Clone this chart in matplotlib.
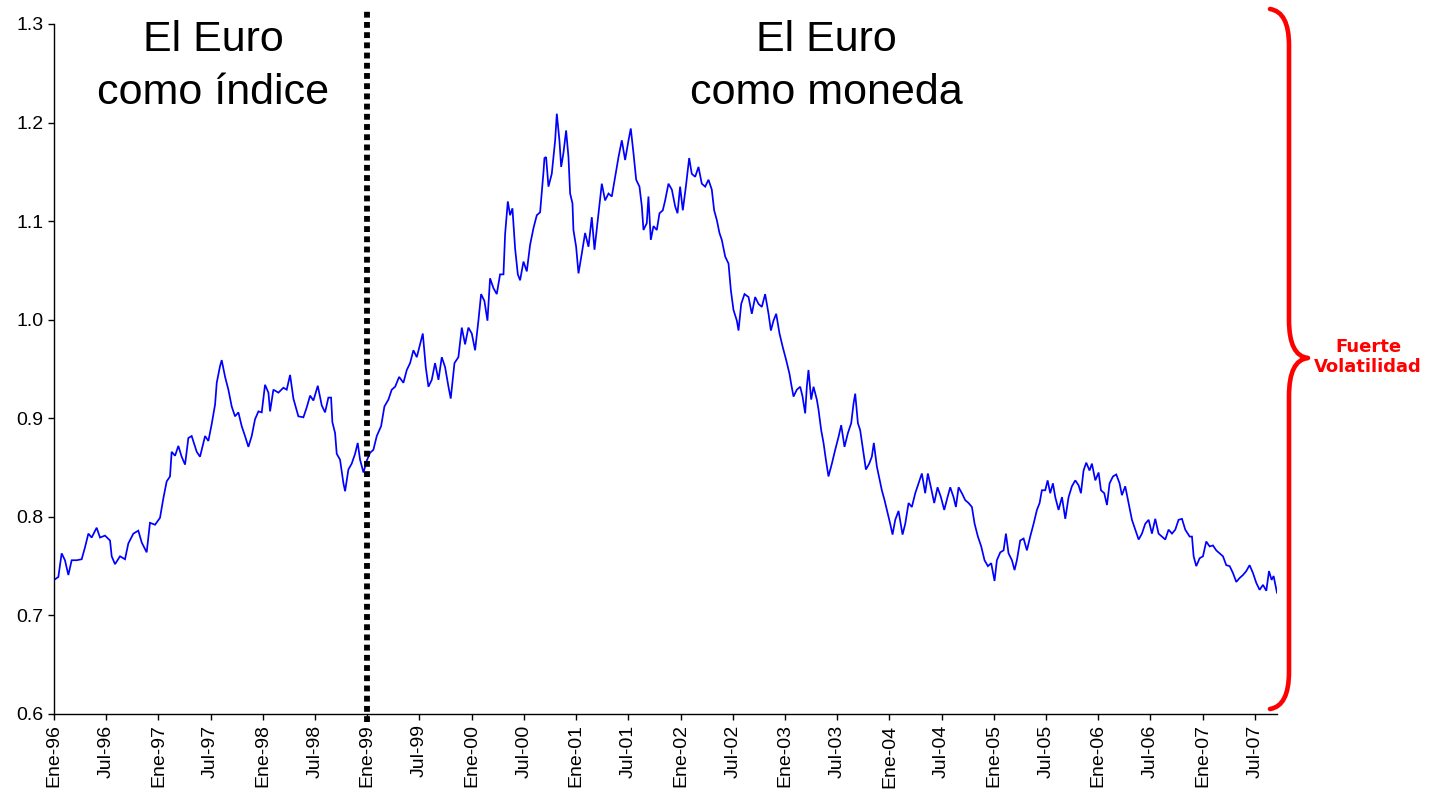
import matplotlib
matplotlib.use("Agg")
import matplotlib.pyplot as plt
from matplotlib.path import Path
from matplotlib.patches import PathPatch

# Tipo de cambio diario: meses desde Ene-96 y valor
months_96_98 = [0.0, 0.50, 0.88, 1.26, 1.65, 2.03, 2.61, 3.18, 3.56, 3.95, 4.33, 4.90, 5.29, 5.86,
                6.44, 6.63, 7.01, 7.59, 8.16, 8.54, 9.12, 9.69, 10.08, 10.65, 11.03, 11.61, 12.18,
                12.57, 12.95, 13.33, 13.52, 13.91, 14.29, 14.67, 15.06, 15.44, 15.82, 16.40, 16.78,
                17.36, 17.74, 18.12, 18.51, 18.70, 19.08, 19.27, 19.66, 20.04, 20.42, 20.80, 21.19,
                21.57, 21.95, 22.34, 22.72, 23.10, 23.49, 23.87, 24.25, 24.64, 24.83, 25.21, 25.79,
                26.36, 26.74, 27.13, 27.51, 28.08]
euro_96_98 = [0.736, 0.739, 0.763, 0.756, 0.741, 0.756, 0.756, 0.757, 0.769, 0.783, 0.779, 0.789, 0.779,
              0.781, 0.776, 0.760, 0.752, 0.760, 0.757, 0.773, 0.783, 0.786, 0.774, 0.764, 0.794, 0.792,
              0.799, 0.819, 0.836, 0.841, 0.866, 0.862, 0.872, 0.861, 0.853, 0.880, 0.882, 0.866, 0.861,
              0.882, 0.877, 0.894, 0.914, 0.936, 0.953, 0.959, 0.942, 0.929, 0.912, 0.902, 0.906, 0.892,
              0.882, 0.871, 0.882, 0.899, 0.907, 0.906, 0.934, 0.926, 0.907, 0.929, 0.926, 0.931, 0.929,
              0.944, 0.920, 0.902]

months_98_00 = [28.66, 29.04, 29.43, 29.81, 30.31, 30.77, 31.15, 31.53, 31.84, 31.99, 32.30, 32.49, 32.87,
                33.26, 33.45, 33.83, 34.21, 34.60, 34.90, 35.17, 35.56, 35.94, 36.32, 36.70, 37.09,
                37.59, 37.97, 38.43, 38.81, 39.20, 39.66, 40.15, 40.54, 40.92, 41.30, 41.69, 42.07,
                42.38, 42.72, 43.03, 43.41, 43.79, 44.18, 44.56, 44.94, 45.33, 45.59, 46.02, 46.47,
                46.86, 47.24, 47.62, 48.01, 48.39, 48.77, 49.08, 49.46, 49.81, 50.11, 50.50, 50.88,
                51.26, 51.65, 51.84, 52.15, 52.41, 52.68, 52.99, 53.30, 53.56, 53.95, 54.33, 54.71,
                55.10, 55.48, 55.86, 56.25, 56.36]
euro_98_00 = [0.901, 0.911, 0.923, 0.918, 0.933, 0.913, 0.906, 0.921, 0.921, 0.896, 0.885, 0.864, 0.858,
              0.834, 0.826, 0.848, 0.854, 0.864, 0.875, 0.858, 0.845, 0.857, 0.865, 0.868, 0.882, 0.892,
              0.912, 0.919, 0.929, 0.932, 0.942, 0.936, 0.949, 0.956, 0.969, 0.962, 0.975, 0.986, 0.952,
              0.932, 0.939, 0.956, 0.939, 0.962, 0.952, 0.932, 0.920, 0.956, 0.962, 0.992, 0.975, 0.992,
              0.986, 0.969, 0.999, 1.026, 1.019, 0.999, 1.042, 1.032, 1.026, 1.046, 1.046, 1.087, 1.120,
              1.106, 1.113, 1.072, 1.046, 1.040, 1.059, 1.049, 1.076, 1.093, 1.106, 1.109, 1.150, 1.164]

months_00_03 = [56.55, 56.82, 57.20, 57.59, 57.78, 58.08, 58.28, 58.54, 58.85, 59.12, 59.31, 59.58, 59.69,
                60.00, 60.27, 60.65, 61.03, 61.42, 61.80, 62.11, 62.57, 62.95, 63.33, 63.72, 64.10,
                64.48, 64.87, 65.25, 65.63, 66.02, 66.28, 66.59, 66.90, 67.28, 67.55, 67.74, 68.12,
                68.31, 68.58, 68.89, 69.27, 69.58, 69.96, 70.23, 70.61, 71.00, 71.38, 71.65, 71.95,
                72.26, 72.61, 72.99, 73.29, 73.68, 74.06, 74.44, 74.83, 75.21, 75.59, 75.86, 76.17,
                76.47, 76.74, 77.13, 77.51, 77.78, 78.08, 78.47, 78.66, 78.97, 79.35, 79.81, 80.19,
                80.57, 80.96, 81.34, 81.72, 82.11, 82.38, 82.68, 82.99, 83.37, 83.75, 84.14, 84.52]
euro_00_03 = [1.165, 1.135, 1.148, 1.182, 1.209, 1.182, 1.155, 1.169, 1.192, 1.165, 1.128, 1.118, 1.091,
              1.074, 1.047, 1.067, 1.088, 1.074, 1.104, 1.071, 1.108, 1.138, 1.121, 1.128, 1.125, 1.145,
              1.165, 1.182, 1.162, 1.182, 1.194, 1.169, 1.142, 1.135, 1.115, 1.091, 1.098, 1.125, 1.081,
              1.095, 1.091, 1.108, 1.111, 1.121, 1.138, 1.132, 1.115, 1.108, 1.135, 1.111, 1.135, 1.164,
              1.148, 1.145, 1.155, 1.138, 1.135, 1.142, 1.132, 1.111, 1.101, 1.088, 1.081, 1.064, 1.057,
              1.030, 1.010, 0.999, 0.989, 1.016, 1.026, 1.023, 1.006, 1.023, 1.016, 1.013, 1.026, 1.006,
              0.989, 0.999, 1.006, 0.986, 0.972, 0.959, 0.945]

months_03_05 = [84.71, 84.98, 85.36, 85.75, 86.02, 86.32, 86.51, 86.70, 87.01, 87.28, 87.66, 87.85, 88.16,
                88.43, 88.70, 89.00, 89.39, 89.77, 90.15, 90.46, 90.84, 91.23, 91.61, 91.88, 92.07,
                92.38, 92.64, 93.03, 93.30, 93.68, 93.98, 94.21, 94.56, 94.87, 95.13, 95.44, 95.71,
                96.09, 96.36, 96.67, 97.05, 97.51, 97.82, 98.20, 98.58, 98.97, 99.35, 99.73, 100.11,
                100.42, 100.77, 101.15, 101.53, 101.92, 102.30, 102.68, 102.99, 103.37, 103.64, 103.95,
                104.33, 104.71, 105.10, 105.48, 105.79, 106.17, 106.55, 106.93, 107.32, 107.70, 108.08,
                108.35, 108.74, 109.12, 109.39, 109.69, 110.08, 110.38, 110.65, 111.03, 111.42, 111.80,
                112.18, 112.57]
euro_03_05 = [0.935, 0.922, 0.929, 0.932, 0.922, 0.905, 0.932, 0.949, 0.919, 0.932, 0.919, 0.909, 0.888,
              0.875, 0.858, 0.841, 0.854, 0.868, 0.881, 0.893, 0.871, 0.885, 0.895, 0.915, 0.925, 0.895,
              0.888, 0.864, 0.848, 0.854, 0.861, 0.875, 0.851, 0.838, 0.827, 0.817, 0.807, 0.793, 0.782,
              0.797, 0.806, 0.782, 0.793, 0.814, 0.810, 0.824, 0.834, 0.844, 0.824, 0.844, 0.830, 0.814,
              0.830, 0.820, 0.807, 0.820, 0.830, 0.820, 0.810, 0.830, 0.824, 0.817, 0.814, 0.810, 0.793,
              0.780, 0.770, 0.756, 0.750, 0.753, 0.735, 0.756, 0.764, 0.766, 0.783, 0.763, 0.756, 0.746,
              0.756, 0.776, 0.778, 0.766, 0.780, 0.793]

months_05_07 = [112.95, 113.26, 113.52, 113.91, 114.18, 114.48, 114.79, 115.06, 115.44, 115.83, 116.21,
                116.59, 116.97, 117.36, 117.74, 118.01, 118.31, 118.62, 119.00, 119.27, 119.66, 120.04,
                120.31, 120.69, 121.00, 121.30, 121.69, 122.07, 122.45, 122.72, 123.10, 123.49, 123.87,
                124.25, 124.64, 125.02, 125.40, 125.79, 126.17, 126.55, 126.93, 127.32, 127.70, 128.08,
                128.47, 128.85, 129.23, 129.62, 130.00, 130.50, 130.77, 130.96, 131.26, 131.65, 132.03,
                132.41, 132.80, 133.18, 133.56, 133.95, 134.33, 134.71, 135.10, 135.48, 135.86, 136.25,
                136.63, 137.01, 137.39, 137.78, 138.16, 138.54, 138.93, 139.31, 139.62, 139.92, 140.15,
                140.54]
euro_05_07 = [0.807, 0.814, 0.827, 0.827, 0.837, 0.824, 0.834, 0.820, 0.807, 0.820, 0.798, 0.820, 0.831,
              0.837, 0.832, 0.824, 0.847, 0.855, 0.847, 0.854, 0.837, 0.845, 0.827, 0.824, 0.812, 0.834,
              0.841, 0.843, 0.834, 0.822, 0.831, 0.814, 0.797, 0.787, 0.777, 0.783, 0.793, 0.797, 0.783,
              0.798, 0.783, 0.780, 0.777, 0.787, 0.783, 0.787, 0.797, 0.798, 0.787, 0.780, 0.780, 0.760,
              0.750, 0.758, 0.760, 0.775, 0.770, 0.771, 0.766, 0.763, 0.760, 0.751, 0.750, 0.743, 0.734,
              0.738, 0.741, 0.745, 0.751, 0.743, 0.733, 0.726, 0.731, 0.725, 0.745, 0.736, 0.740, 0.723]

months = months_96_98 + months_98_00 + months_00_03 + months_03_05 + months_05_07
euro = euro_96_98 + euro_98_00 + euro_00_03 + euro_03_05 + euro_05_07

tick_labels = []
for yy in range(96, 108):
    tick_labels += [f"Ene-{yy % 100:02d}", f"Jul-{yy % 100:02d}"]
tick_months = [6 * i for i in range(len(tick_labels))]
inicio_moneda = 36                      # Ene-99

W, H = 1432, 794
plt.rcParams['font.family'] = ['Liberation Sans', 'DejaVu Sans']
fig = plt.figure(figsize=(W / 100, H / 100), dpi=100)
ax = fig.add_axes([54 / W, 1 - 714 / H, (1277 - 54) / W, (714 - 24) / H])

ax.plot(months, euro, color='#0000FF', lw=1.25, solid_joinstyle='miter')
ax.set_xlim(0, months[-1])
ax.set_ylim(0.6, 1.3)

ax.set_yticks([0.6 + 0.1 * i for i in range(8)])
ax.set_yticklabels([f"{0.6 + 0.1 * i:.1f}" for i in range(8)])
ax.set_xticks(tick_months)
ax.set_xticklabels(tick_labels, rotation=90)
ax.tick_params(axis='both', direction='out', length=4.5, width=1, labelsize=14, pad=3)
for side in ['top', 'right']:
    ax.spines[side].set_visible(False)
for side in ['left', 'bottom']:
    ax.spines[side].set_linewidth(1)

# separacion euro indice / euro moneda
ax.plot([inicio_moneda, inicio_moneda], [0.592, 1.316], color='black', lw=4.2,
        ls=(0, (1, 0.75)), dash_capstyle='butt', clip_on=False)

fig.text(213 / W, 1 - 20 / H, "El Euro\ncomo índice", ha='center', va='top',
         fontsize=31, linespacing=1.42)
fig.text(826 / W, 1 - 20 / H, "El Euro\ncomo moneda", ha='center', va='top',
         fontsize=31, linespacing=1.42)

# llave roja a la derecha
def fp(x, y):
    return (x / W, 1 - y / H)

verts = [fp(1270, 9), fp(1289, 12), fp(1289, 45), fp(1289, 320), fp(1289, 356), fp(1308, 358),
         fp(1289, 360), fp(1289, 396), fp(1289, 672), fp(1289, 706), fp(1270, 709)]
codes = [Path.MOVETO, Path.CURVE3, Path.CURVE3, Path.LINETO, Path.CURVE3, Path.CURVE3,
         Path.CURVE3, Path.CURVE3, Path.LINETO, Path.CURVE3, Path.CURVE3]
brace = PathPatch(Path(verts, codes), transform=fig.transFigure, fill=False,
                  edgecolor='#FF0000', lw=3.3, capstyle='round', joinstyle='round')
fig.patches.append(brace)

fig.text(1368 / W, 1 - 357 / H, "Fuerte\nVolatilidad", ha='center', va='center',
         fontsize=13, fontweight='bold', color='#FF0000', family='DejaVu Sans', linespacing=1.15)

fig.savefig("out.png", dpi=100)
